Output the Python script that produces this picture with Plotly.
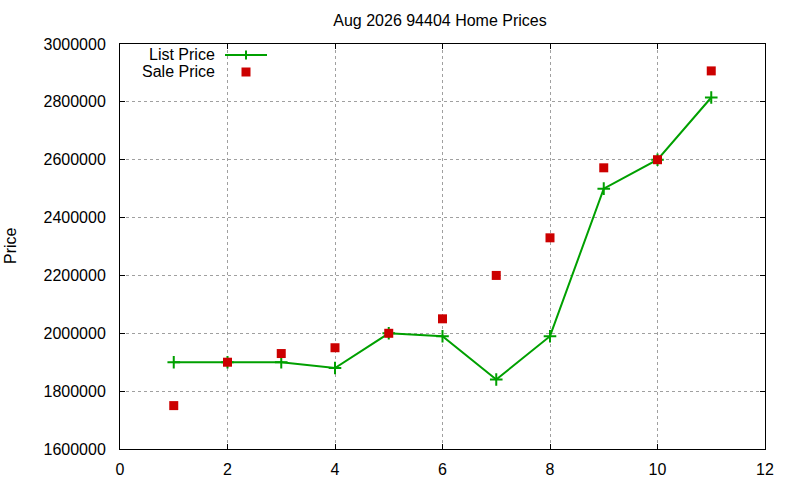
import plotly.graph_objects as go

# Data
months = [1, 2, 3, 4, 5, 6, 7, 8, 9, 10, 11]
list_price = [1900000, 1900000, 1900000, 1880000, 2000000, 1990000,
              1840000, 1990000, 2500000, 2600000, 2815000]
sale_price = [1750000, 1900000, 1930000, 1950000, 2000000, 2050000,
              2200000, 2330000, 2572000, 2600000, 2907000]

x_ticks = [0, 2, 4, 6, 8, 10, 12]
y_ticks = [1600000, 1800000, 2000000, 2200000, 2400000, 2600000, 2800000, 3000000]

GREEN = "#00a000"
RED = "#cc0000"
FONT = "Liberation Sans, Arial, sans-serif"

# plot area in reference pixels (left, right, top, bottom)
L, R, T, B = 120, 765, 44, 449


def px(x):
    return (x - L) / (R - L)


def py(y):
    return (B - y) / (B - T)


fig = go.Figure()

fig.add_trace(go.Scatter(
    x=months, y=list_price, mode="lines+markers", name="List Price",
    line=dict(color=GREEN, width=2),
    marker=dict(symbol="cross-thin", size=9, line=dict(color=GREEN, width=2)),
))

fig.add_trace(go.Scatter(
    x=months, y=sale_price, mode="markers", name="Sale Price",
    marker=dict(symbol="square", size=9, color=RED),
))

axis_common = dict(
    showline=True, linecolor="black", linewidth=1, mirror="ticks",
    ticks="inside", ticklen=5, tickcolor="black",
    showgrid=True, gridcolor="#a0a0a0", gridwidth=1, griddash="dot",
    zeroline=False, automargin=False,
    tickfont=dict(size=16, color="black", family=FONT),
)

fig.update_xaxes(range=[0, 12], tickvals=x_ticks, ticklabelstandoff=6, **axis_common)
fig.update_yaxes(range=[1600000, 3000000], tickvals=y_ticks,
                 tickformat="d", ticklabelstandoff=10, **axis_common)

# gnuplot-style key: text to the left of the sample
shapes = [
    dict(type="line", xref="paper", yref="paper",
         x0=px(225), x1=px(267), y0=py(55), y1=py(55),
         line=dict(color=GREEN, width=2)),
    dict(type="line", xref="paper", yref="paper",
         x0=px(241.5), x1=px(250.5), y0=py(55), y1=py(55),
         line=dict(color=GREEN, width=2)),
    dict(type="line", xref="paper", yref="paper",
         x0=px(246), x1=px(246), y0=py(50.5), y1=py(59.5),
         line=dict(color=GREEN, width=2)),
    dict(type="rect", xref="paper", yref="paper",
         x0=px(241.5), x1=px(250.5), y0=py(67.5), y1=py(76.5),
         fillcolor=RED, line=dict(width=0)),
]

annotations = [
    dict(text="List Price", xref="paper", yref="paper", x=px(217), y=py(55),
         xanchor="right", yanchor="middle", showarrow=False,
         font=dict(size=16, color="black", family=FONT)),
    dict(text="Sale Price", xref="paper", yref="paper", x=px(217), y=py(71),
         xanchor="right", yanchor="middle", showarrow=False,
         font=dict(size=16, color="black", family=FONT)),
    dict(text="Price", xref="paper", yref="paper", x=px(10), y=py(246),
         xanchor="center", yanchor="middle", textangle=-90, showarrow=False,
         font=dict(size=16, color="black", family=FONT)),
]

fig.update_layout(
    width=800, height=480,
    margin=dict(l=L, r=800 - R, t=T, b=480 - B, autoexpand=False),
    paper_bgcolor="white", plot_bgcolor="white",
    showlegend=False,
    title=dict(text="Aug 2026 94404 Home Prices", x=440 / 800, xanchor="center",
               y=1 - 20 / 480, yanchor="middle",
               font=dict(size=16, color="black", family=FONT)),
    shapes=shapes, annotations=annotations,
)

# drop the browser's default body margin so the figure sits at the page corner
fig.write_html("out.html", config={"displayModeBar": False},
               post_script="document.body.style.margin = '0';")
